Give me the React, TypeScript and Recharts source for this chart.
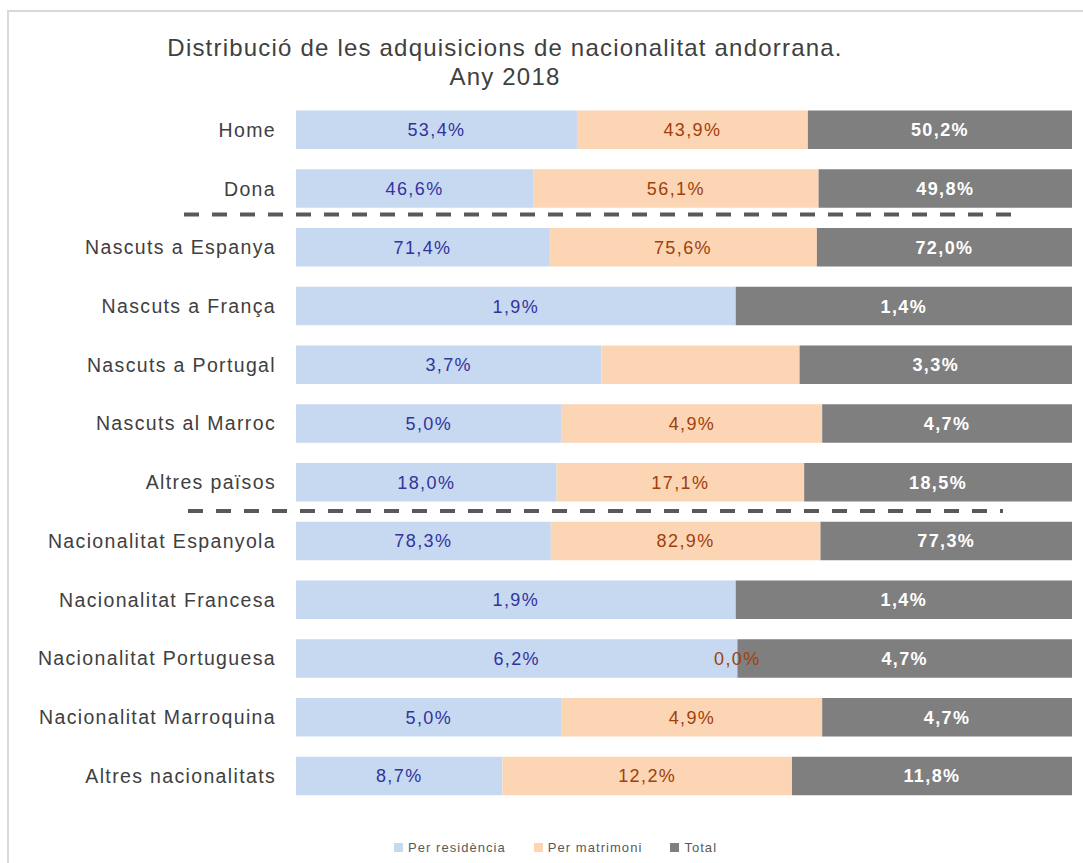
import React from 'react';
import { BarChart, Bar, XAxis, YAxis, LabelList } from 'recharts';

const categories = [
    'Home',
    'Dona',
    'Nascuts a Espanya',
    'Nascuts a França',
    'Nascuts a Portugal',
    'Nascuts al Marroc',
    'Altres països',
    'Nacionalitat Espanyola',
    'Nacionalitat Francesa',
    'Nacionalitat Portuguesa',
    'Nacionalitat Marroquina',
    'Altres nacionalitats',
];

// percentatges llegits de les etiquetes (França amb un decimal més, per l'amplada)
const residencia = [53.4, 46.6, 71.4, 1.87, 3.7, 5.0, 18.0, 78.3, 1.87, 6.2, 5.0, 8.7];
const matrimoni = [43.9, 56.1, 75.6, 0, 2.4, 4.9, 17.1, 82.9, 0, 0, 4.9, 12.2];
const total = [50.2, 49.8, 72.0, 1.43, 3.3, 4.7, 18.5, 77.3, 1.43, 4.7, 4.7, 11.8];

// etiquetes de matrimoni tal com surten (buit = no es mostra)
const matrimoniLabels = ['43,9%', '56,1%', '75,6%', '', '', '4,9%', '17,1%', '82,9%', '', '0,0%', '4,9%', '12,2%'];

const SERIES = [
    { key: 'residencia', name: 'Per residència', color: '#C6D9F1', labelColor: '#33339c', bold: false },
    { key: 'matrimoni', name: 'Per matrimoni', color: '#FCD5B5', labelColor: '#a0400a', bold: false },
    { key: 'total', name: 'Total', color: '#7F7F7F', labelColor: '#ffffff', bold: true },
];

const data = categories.map((name, i) => ({
    name,
    residencia: residencia[i],
    matrimoni: matrimoni[i],
    total: total[i],
    residenciaLabel: `${residencia[i].toFixed(1).replace('.', ',')}%`,
    matrimoniLabel: matrimoniLabels[i],
    totalLabel: `${total[i].toFixed(1).replace('.', ',')}%`,
}));

const FONT = '"Liberation Sans", Arial, sans-serif';
const W = 1083;
const H = 863;
const MARGIN = { top: 100.6, right: 11, bottom: 57.6, left: 0 };
const AXIS_W = 296;

const CategoryTick = ({ x, y, payload }: any) => (
    <text x={x} y={y} dy="0.35em" textAnchor="end" fill="#404040" fontSize={19.5} fontFamily={FONT} style={{ letterSpacing: 1.35 }}>
        {payload.value}
    </text>
);

const labelText = (key: string | number, cx: number, cy: number, text: string, color: string, bold: boolean) => (
    <text
        key={key}
        x={cx}
        y={cy}
        dy="0.36em"
        textAnchor="middle"
        fill={color}
        fontSize={18}
        fontWeight={bold ? 'bold' : 'normal'}
        fontFamily={FONT}
        style={{ letterSpacing: 1.4 }}
    >
        {text}
    </text>
);

const makeLabel = (seriesKey: string, color: string, bold: boolean) => (props: any) => {
    const { x, y, width, height, value, index } = props;
    if (!value) return null;
    const cy = Number(y) + Number(height) / 2;
    const main = labelText('m', Number(x) + Number(width) / 2, cy, String(value), color, bold);
    // la barra de matrimoni de valor 0 no es dibuixa: la seva etiqueta va a l'inici del total
    if (seriesKey === 'total' && matrimoni[index] === 0 && matrimoniLabels[index]) {
        return (
            <g>
                {labelText('z', Number(x), cy, matrimoniLabels[index], SERIES[1].labelColor, false)}
                {main}
            </g>
        );
    }
    return main;
};

// línies discontínues separant els grups (després de 'Dona' i 'Altres països')
const band = (H - MARGIN.top - MARGIN.bottom) / categories.length;
const separators = [
    { after: 2, x1: 184, x2: 1012, dy: -3.5 },
    { after: 7, x1: 188, x2: 1003, dy: -0.8 },
];

export default function App() {
    return (
        <div style={{ position: 'absolute', left: 0, top: 0, width: W, height: H, overflow: 'hidden', background: '#fff', fontFamily: FONT }}>
            <div style={{ position: 'absolute', left: 7, top: 10, width: 1200, height: 1000, borderLeft: '2px solid #d9d9d9', borderTop: '2px solid #d9d9d9' }} />
            <div
                style={{
                    position: 'absolute',
                    left: 0,
                    top: 33,
                    width: 1010,
                    textAlign: 'center',
                    fontSize: 24,
                    lineHeight: '29px',
                    color: '#404040',
                    letterSpacing: 1.2,
                }}
            >
                Distribució de les adquisicions de nacionalitat andorrana.
                <br />
                Any 2018
            </div>
            <div style={{ position: 'absolute', left: 0, top: 0 }}>
                <BarChart width={W} height={H} data={data} layout="vertical" stackOffset="expand" margin={MARGIN} barSize={38.5}>
                    <XAxis type="number" hide domain={[0, 1]} />
                    <YAxis
                        type="category"
                        dataKey="name"
                        width={AXIS_W}
                        axisLine={false}
                        tickLine={false}
                        tickMargin={14}
                        interval={0}
                        tick={<CategoryTick />}
                    />
                    {SERIES.map(s => (
                        <Bar key={s.key} dataKey={s.key} name={s.name} stackId="a" fill={s.color} isAnimationActive={false}>
                            <LabelList dataKey={`${s.key}Label`} content={makeLabel(s.key, s.labelColor, s.bold)} />
                        </Bar>
                    ))}
                </BarChart>
            </div>
            <svg width={W} height={H} style={{ position: 'absolute', left: 0, top: 0, pointerEvents: 'none' }}>
                {separators.map(s => {
                    const y = MARGIN.top + band * s.after + s.dy;
                    return <line key={s.after} x1={s.x1} x2={s.x2} y1={y} y2={y} stroke="#595959" strokeWidth={4} strokeDasharray="15 13" />;
                })}
            </svg>
            <div style={{ position: 'absolute', left: 394, top: 840, display: 'flex', alignItems: 'center', fontSize: 13, color: '#595959', letterSpacing: 1.05 }}>
                {SERIES.map(s => (
                    <div key={s.key} style={{ display: 'flex', alignItems: 'center', marginRight: 28 }}>
                        <span style={{ display: 'inline-block', width: 9, height: 9, background: s.color, marginRight: 5 }} />
                        <span>{s.name}</span>
                    </div>
                ))}
            </div>
        </div>
    );
}
